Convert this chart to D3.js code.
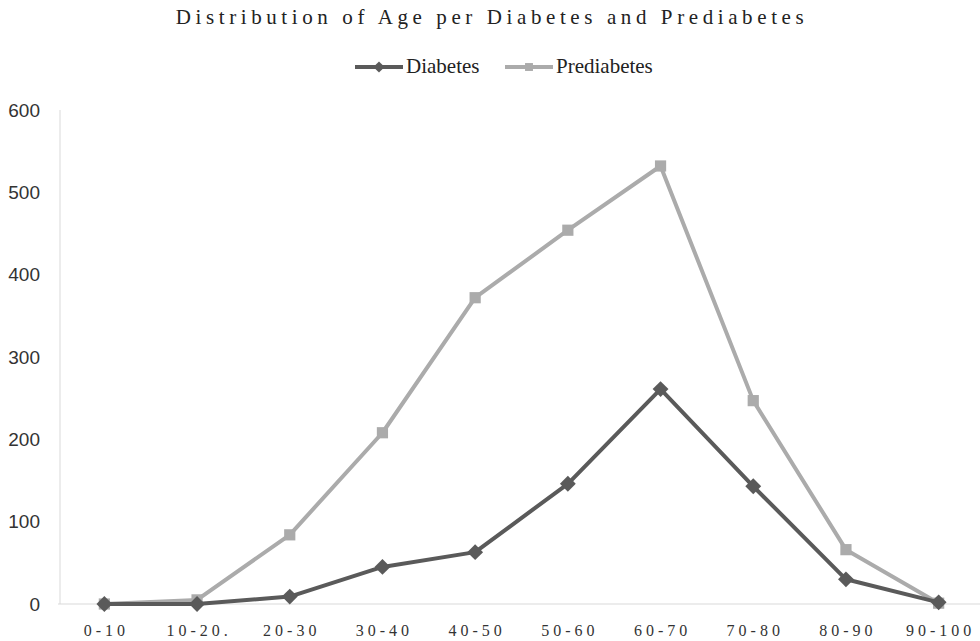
<!DOCTYPE html>
<html>
<head>
<meta charset="utf-8">
<script src="https://cdn.jsdelivr.net/npm/d3@7"></script>
<style>
  html, body { margin: 0; padding: 0; background: #fff; }
  svg { display: block; }
</style>
</head>
<body>
<svg id="chart" width="980" height="641"></svg>
<script>
// Age bands and counts per group
const ageBands = ["0-10", "10-20.", "20-30", "30-40", "40-50", "50-60", "60-70", "70-80", "80-90", "90-100"];
const diabetes = [0, 0, 9, 45, 63, 146, 261, 143, 30, 2];
const prediabetes = [0, 5, 84, 208, 372, 454, 532, 247, 66, 1];
const yTicks = [0, 100, 200, 300, 400, 500, 600];

const seriesList = [
  { name: "Diabetes", values: diabetes, color: "#5a5a5a", symbol: d3.symbolDiamond2 },
  { name: "Prediabetes", values: prediabetes, color: "#ababab", symbol: d3.symbolSquare2 }
];

const svg = d3.select("#chart");
const W = 980, H = 641;
const plot = { left: 58, right: 985, top: 110, bottom: 604 };

const x = d3.scaleBand().domain(ageBands).range([plot.left, plot.right]);
const y = d3.scaleLinear().domain([0, 600]).range([plot.bottom, plot.top]);

// Title
svg.append("text")
  .attr("x", W / 2 + 2).attr("y", 24)
  .attr("text-anchor", "middle")
  .attr("font-family", "'Liberation Serif', 'Times New Roman', serif")
  .attr("font-size", 21)
  .attr("letter-spacing", 4.6)
  .attr("fill", "#222")
  .text("Distribution of Age per Diabetes and Prediabetes");

// Axis lines
svg.append("line")
  .attr("x1", plot.left + 2).attr("x2", plot.left + 2)
  .attr("y1", plot.top).attr("y2", plot.bottom)
  .attr("stroke", "#d9d9d9").attr("stroke-width", 1);
svg.append("line")
  .attr("x1", plot.left).attr("x2", W)
  .attr("y1", plot.bottom).attr("y2", plot.bottom)
  .attr("stroke", "#d9d9d9").attr("stroke-width", 1);

// Y axis labels
const yAxis = d3.axisLeft(y).tickValues(yTicks).tickSize(0).tickPadding(0);
const gy = svg.append("g").attr("transform", `translate(40,0)`).call(yAxis);
gy.select(".domain").remove();
gy.selectAll("text")
  .attr("font-family", "'Liberation Sans', Arial, sans-serif")
  .attr("font-size", 19)
  .attr("fill", "#333");

// X axis labels
const xAxis = d3.axisBottom(x).tickSize(0).tickPadding(0);
const gx = svg.append("g").attr("transform", `translate(0,${plot.bottom + 21})`).call(xAxis);
gx.select(".domain").remove();
gx.selectAll("text")
  .attr("font-family", "'Liberation Serif', 'Times New Roman', serif")
  .attr("font-size", 16)
  .attr("letter-spacing", 4)
  .attr("dx", 2)
  .attr("fill", "#333");

// Lines and markers
const line = d3.line()
  .x((d, i) => x(ageBands[i]) + x.bandwidth() / 2)
  .y(d => y(d));

seriesList.slice().reverse().forEach(s => {
  const g = svg.append("g");
  g.append("path")
    .datum(s.values)
    .attr("d", line)
    .attr("fill", "none")
    .attr("stroke", s.color)
    .attr("stroke-width", 4)
    .attr("stroke-linejoin", "round");
  g.selectAll("path.marker")
    .data(s.values)
    .join("path")
    .attr("class", "marker")
    .attr("transform", (d, i) => `translate(${x(ageBands[i]) + x.bandwidth() / 2},${y(d)})`)
    .attr("d", d3.symbol().type(s.symbol).size(160))
    .attr("fill", s.color);
});

// Legend
const legendItems = [
  { s: seriesList[0], x0: 355 },
  { s: seriesList[1], x0: 505 }
];
const legendY = 67;
legendItems.forEach(({ s, x0 }) => {
  const g = svg.append("g").attr("transform", `translate(${x0},${legendY})`);
  g.append("line").attr("x1", 0).attr("x2", 48).attr("y1", 0).attr("y2", 0)
    .attr("stroke", s.color).attr("stroke-width", 4);
  g.append("path").attr("transform", "translate(24,0)")
    .attr("d", d3.symbol().type(s.symbol).size(80))
    .attr("fill", s.color);
  g.append("text").attr("x", 51).attr("y", 6)
    .attr("font-family", "'Liberation Serif', 'Times New Roman', serif")
    .attr("font-size", 21)
    .attr("fill", "#222")
    .text(s.name);
});
</script>
</body>
</html>
